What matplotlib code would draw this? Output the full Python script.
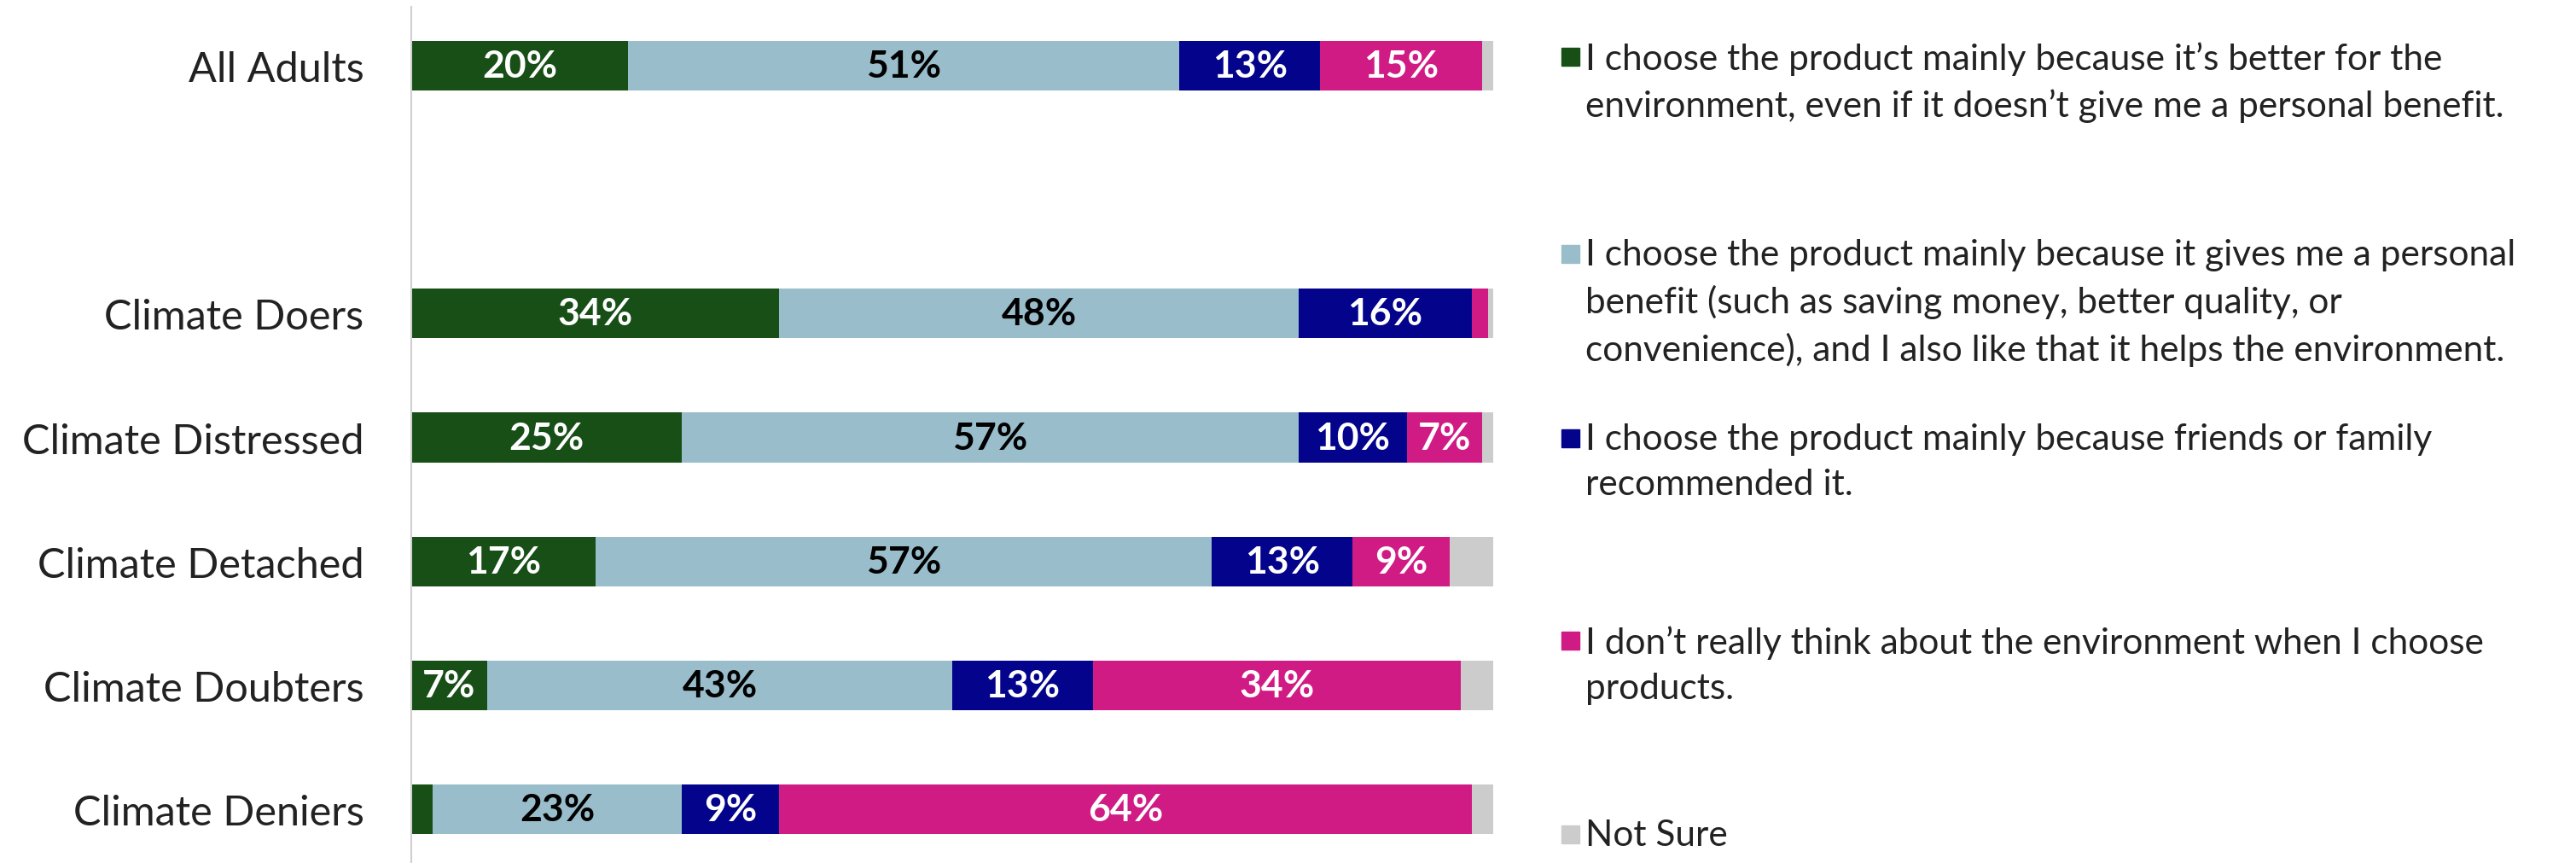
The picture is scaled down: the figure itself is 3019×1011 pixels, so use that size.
import matplotlib.pyplot as plt
from matplotlib.patches import Rectangle

plt.rcParams['font.family'] = ['Lato', 'DejaVu Sans']

groups = ["All Adults", "Climate Doers", "Climate Distressed",
          "Climate Detached", "Climate Doubters", "Climate Deniers"]
# row 1 is left empty to separate the total from the segments
rows = [0, 2, 3, 4, 5, 6]

env_first = [20, 34, 25, 17, 7, 2]
personal_benefit = [51, 48, 57, 57, 43, 23]
friends_family = [13, 16, 10, 13, 13, 9]
dont_think = [15, 1.5, 7, 9, 34, 64]
not_sure = [1, 0.5, 1, 4, 3, 2]

labels_shown = [
    [True, True, True, True, True, False],   # env_first
    [True] * 6,                              # personal_benefit
    [True] * 6,                              # friends_family
    [True, False, True, True, True, True],   # dont_think
]

legend_labels = [
    "I choose the product mainly because it\u2019s better for the\n"
    "environment, even if it doesn\u2019t give me a personal benefit.",
    "I choose the product mainly because it gives me a personal\n"
    "benefit (such as saving money, better quality, or\n"
    "convenience), and I also like that it helps the environment.",
    "I choose the product mainly because friends or family\n"
    "recommended it.",
    "I don\u2019t really think about the environment when I choose\n"
    "products.",
    "Not Sure",
]

colors = ["#174f17", "#99bdcb", "#03038c", "#d01b85", "#cccccc"]
text_colors = ["white", "black", "white", "white", None]

series = [env_first, personal_benefit, friends_family, dont_think, not_sure]

fig = plt.figure(figsize=(30.19, 10.12), dpi=100)
ax = fig.add_axes([0.1597, 0.0, 0.42, 0.991])

left = [0] * len(groups)
for i, (vals, col) in enumerate(zip(series, colors)):
    ax.barh(rows, vals, left=left, height=0.4, color=col, edgecolor='none')
    if text_colors[i] is not None:
        for j, (r, v, l) in enumerate(zip(rows, vals, left)):
            if labels_shown[i][j]:
                ax.text(l + v / 2, r, f"{v:g}%", ha='center', va='center',
                        color=text_colors[i], fontsize=32, fontweight='bold')
    left = [a + b for a, b in zip(left, vals)]

ax.set_xlim(0, 100)
ax.set_ylim(6.434, -0.475)
ax.set_yticks(rows)
ax.set_yticklabels(groups, fontsize=35, color='#222222')
ax.tick_params(axis='y', length=0, pad=40)
ax.set_xticks([])
for s in ['top', 'right', 'bottom']:
    ax.spines[s].set_visible(False)
ax.spines['left'].set_color('#d0d0d0')
ax.spines['left'].set_linewidth(1.5)

# legend drawn by hand so each entry sits at its own height
legend_mid = [67, 298, 514, 751, 978]
W, H = 3019, 1012
sq = 21
for lab, col, ymid in zip(legend_labels, colors, legend_mid):
    fig.patches.append(Rectangle((1830 / W, 1 - (ymid + sq / 2) / H), sq / W, sq / H,
                                 transform=fig.transFigure, color=col))
    fig.text(1858 / W, 1 - (ymid - 18) / H, lab, ha='left', va='top',
             fontsize=30.5, color='#222222', linespacing=1.48)

fig.savefig("out.png", dpi=100)
